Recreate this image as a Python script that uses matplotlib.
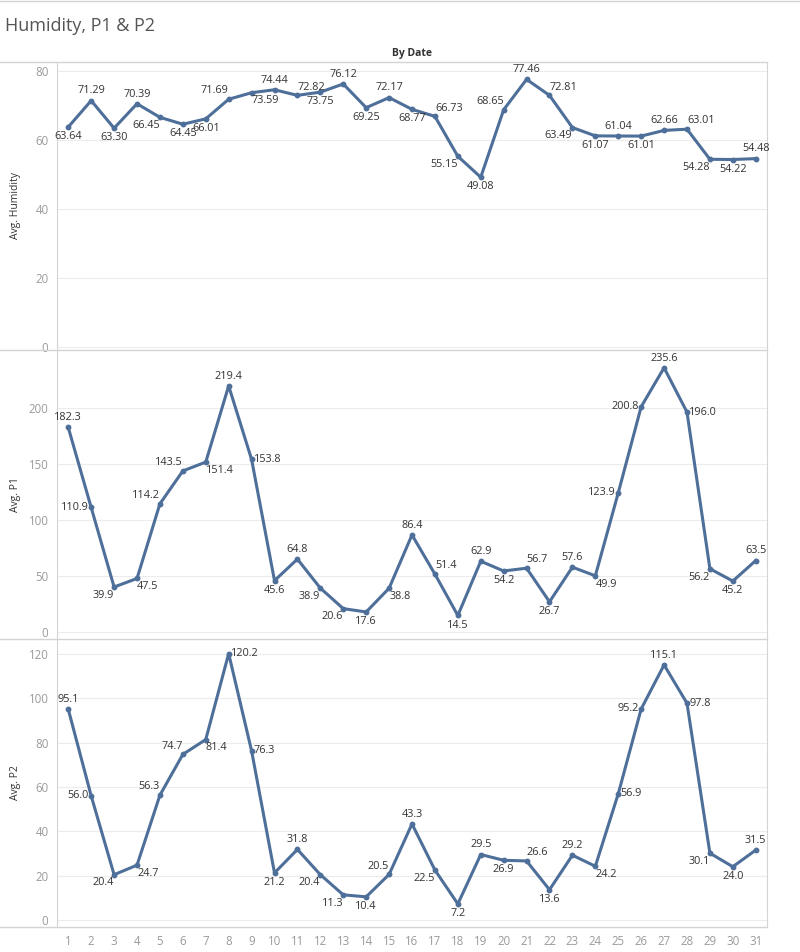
import matplotlib.pyplot as plt
from matplotlib.lines import Line2D

days = list(range(1, 32))

humidity = [63.64, 71.29, 63.30, 70.39, 66.45, 64.45, 66.01, 71.69, 73.59, 74.44,
            72.82, 73.75, 76.12, 69.25, 72.17, 68.77, 66.73, 55.15, 49.08, 68.65,
            77.46, 72.81, 63.49, 61.07, 61.04, 61.01, 62.66, 63.01, 54.28, 54.22, 54.48]
p1 = [182.3, 110.9, 39.9, 47.5, 114.2, 143.5, 151.4, 219.4, 153.8, 45.6,
      64.8, 38.9, 20.6, 17.6, 38.8, 86.4, 51.4, 14.5, 62.9, 54.2,
      56.7, 26.7, 57.6, 49.9, 123.9, 200.8, 235.6, 196.0, 56.2, 45.2, 63.5]
p2 = [95.1, 56.0, 20.4, 24.7, 56.3, 74.7, 81.4, 120.2, 76.3, 21.2,
      31.8, 20.4, 11.3, 10.4, 20.5, 43.3, 22.5, 7.2, 29.5, 26.9,
      26.6, 13.6, 29.2, 24.2, 56.9, 95.2, 115.1, 97.8, 30.1, 24.0, 31.5]

# label placement per point (a=above, b=below, l=left, r=right, al/bl/ar/br corners)
hum_pos = ["b", "a", "b", "a", "bl", "b", "b", "al", "br", "a",
           "ar", "b", "a", "b", "a", "b", "ar", "bl", "b", "al",
           "a", "ar", "bl", "b", "a", "b", "a", "ar", "bl", "b", "a"]
p1_pos = ["a", "l", "bl", "br", "al", "al", "br", "a", "r", "b",
          "a", "bl", "bl", "b", "br", "a", "ar", "b", "a", "b",
          "ar", "b", "a", "br", "l", "l", "a", "r", "bl", "b", "a"]
p2_pos = ["a", "l", "bl", "br", "al", "al", "br", "r", "r", "b",
          "a", "bl", "bl", "b", "al", "a", "bl", "b", "a", "b",
          "ar", "b", "a", "br", "r", "l", "a", "r", "bl", "b", "a"]

color = "#4e6f99"
grey = "#9a9a9a"
plt.rcParams["font.family"] = ["Open Sans", "DejaVu Sans"]

offsets = {
    "a": ((0, 3), "center", "bottom"),
    "b": ((0, -3), "center", "top"),
    "l": ((-1.5, 0), "right", "center"),
    "r": ((1.5, 0), "left", "center"),
    "al": ((0, 2), "right", "bottom"),
    "ar": ((0, 2), "left", "bottom"),
    "bl": ((0, -2), "right", "top"),
    "br": ((0, -2), "left", "top"),
}

fig = plt.figure(figsize=(8, 9.52), dpi=100)

left, width = 0.071, 0.888
panels = [
    (humidity, hum_pos, "Avg. Humidity", (0.6324, 0.3025), (-1, 82.5), [0, 20, 40, 60, 80], "{:.2f}"),
    (p1, p1_pos, "Avg. P1", (0.3288, 0.3036), (-6.5, 251.5), [0, 50, 100, 150, 200], "{:.1f}"),
    (p2, p2_pos, "Avg. P2", (0.0263, 0.3025), (-3.2, 126.8), [0, 20, 40, 60, 80, 100, 120], "{:.1f}"),
]

for i, (vals, pos, ylabel, (bottom, height), ylim, yticks, fmt) in enumerate(panels):
    ax = fig.add_axes([left, bottom, width, height])
    ax.plot(days, vals, color=color, lw=2.2, marker="o", ms=3.2, zorder=3)
    for d, v, p in zip(days, vals, pos):
        off, ha, va = offsets[p]
        ax.annotate(fmt.format(v), (d, v), xytext=off, textcoords="offset points",
                    ha=ha, va=va, fontsize=7.8, color="#333333")
    ax.set_xlim(0.5, 31.5)
    ax.set_ylim(*ylim)
    ax.set_yticks(yticks)
    ax.set_xticks(days)
    ax.grid(axis="y", color="#ececec", lw=0.8)
    ax.set_axisbelow(True)
    ax.tick_params(length=0, labelsize=8.3, labelcolor=grey, pad=6)
    ax.set_ylabel(ylabel, fontsize=7.5, color="#333333")
    ax.yaxis.set_label_coords(-0.051, 0.5)
    for s in ["top", "bottom"]:
        ax.spines[s].set_visible(False)
    ax.spines["left"].set_color("#d4d4d4")
    ax.spines["right"].set_color("#d4d4d4")
    if i < 2:
        ax.tick_params(labelbottom=False)

# panel separators and header line
for y in [0.9349, 0.6324, 0.3288, 0.0263]:
    fig.add_artist(Line2D([0, 0.959], [y, y], color="#d4d4d4", lw=1))
fig.add_artist(Line2D([0, 1], [0.999, 0.999], color="#d4d4d4", lw=1))

fig.text(0.006, 0.973, "Humidity, P1 & P2", fontsize=13, color="#555555", va="center")
fig.text(0.515, 0.944, "By Date", fontsize=7.5, color="#333333", fontweight="bold",
         ha="center", va="center")

fig.savefig("out.png", dpi=100)
